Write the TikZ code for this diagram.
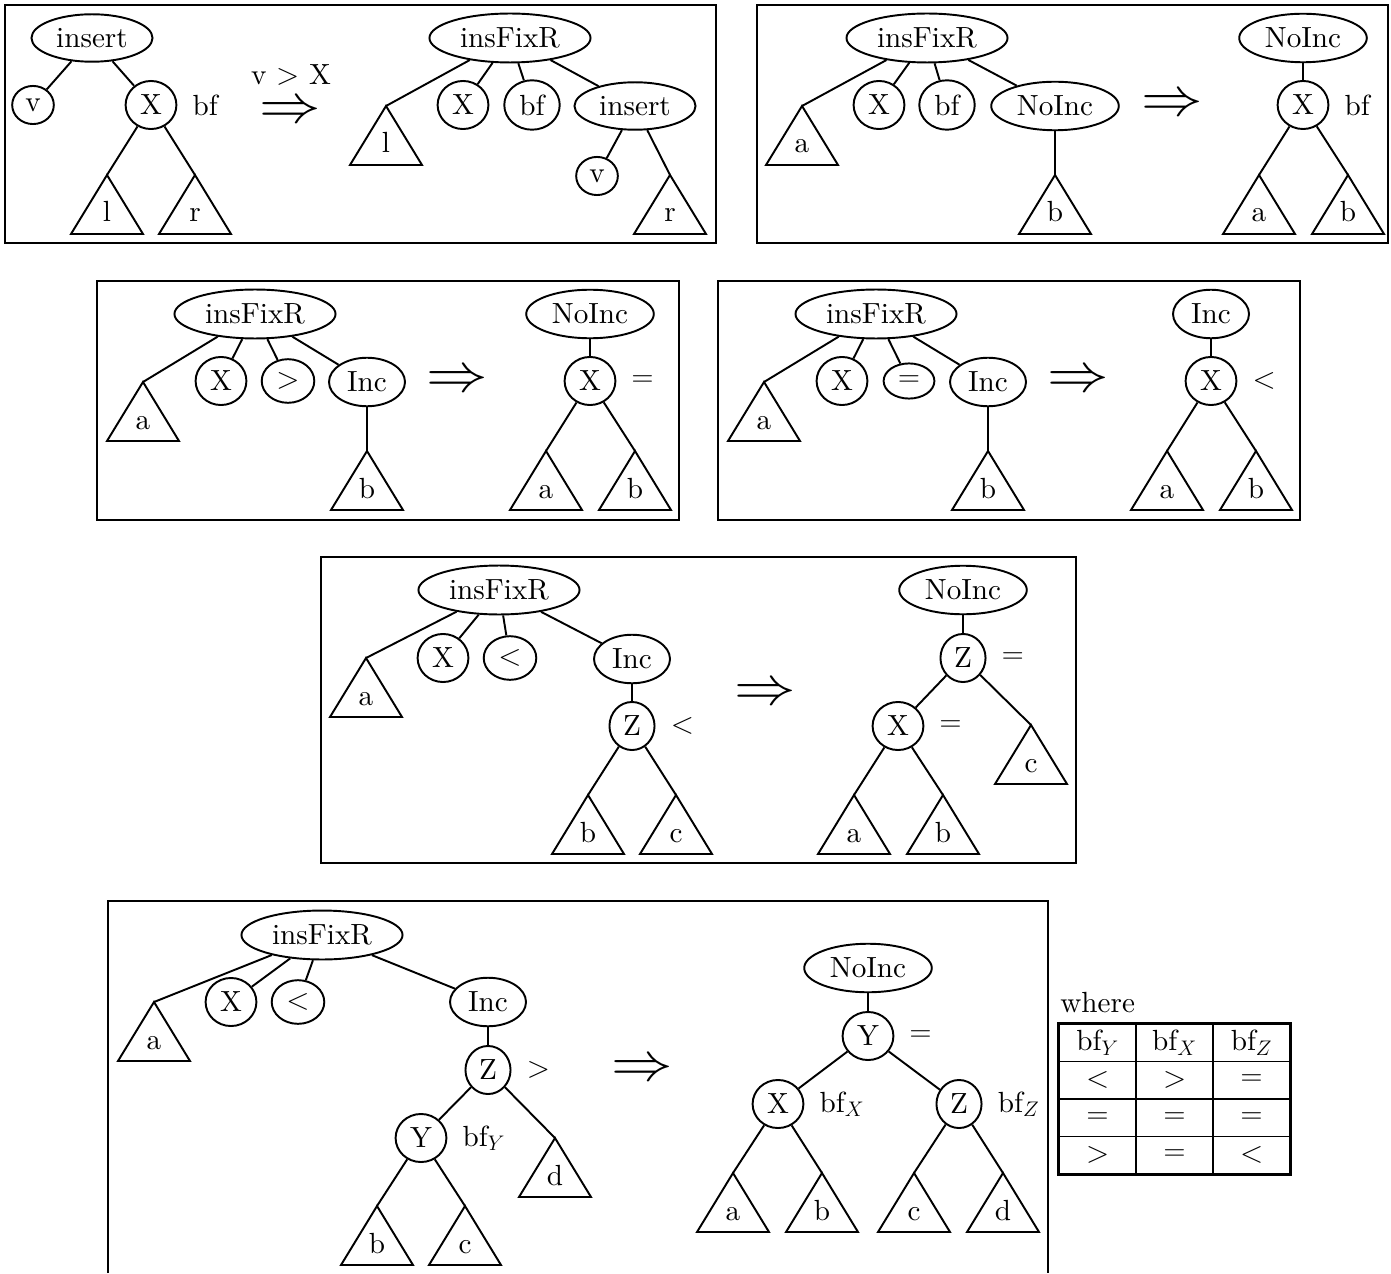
\documentclass[tikz,border=0pt]{standalone}
\usepackage{fontspec}
\setmainfont{lmroman10}[Extension=.otf, UprightFont=*-regular, BoldFont=*-bold,
  ItalicFont=*-italic, BoldItalicFont=*-bolditalic]
\usetikzlibrary{positioning,shapes.geometric,matrix}

\tikzset{
  tnode/.style={draw, ellipse, inner sep=4pt, line width=1.1pt},
  branch/.style={line width=1.1pt},
  panel/.style={line width=1.5pt},
  lab/.style={inner sep=0pt},
  imp/.style={font=\fontsize{10}{12}\selectfont, inner sep=0pt},
  sub/.pic={
    \coordinate (-top) at (0,0);
    \draw[branch] (0,0) -- (-36,59) -- (36,59) -- cycle;
    \node[anchor=base, inner sep=0pt] (-lab) at (0,47) {#1};
  }
}
\newcommand{\imparrow}{\scalebox{3.5}[3.1]{$\Rightarrow$}}

\begin{document}
\begin{tikzpicture}[x=0.02cm, y=-0.02cm, every node/.style={font=\fontsize{16.6}{20}\selectfont}]
\useasboundingbox (0,0) rectangle (1391,1273);

% insert into the right subtree
\draw[panel] (5,5) rectangle (716,243);
\node[tnode] (ins1) at (92,38) {insert};
\node[tnode] (v1) at (33,105) {v};
\node[tnode] (x1) at (151,105) {X};
\node[lab, right=0.3cm of x1] (bf1) {bf};
\pic (l1) at (107,175) {sub=l};
\pic (r1) at (195,175) {sub=r};
\draw[branch] (ins1) -- (v1);
\draw[branch] (ins1) -- (x1);
\draw[branch] (x1) -- (l1-top);
\draw[branch] (x1) -- (r1-top);
\node[imp] (imp1) at (290,113) {\imparrow};
\node[lab] (cond1) at (291,75) {v $>$ X};
\node[tnode] (fix1) at (510,38) {insFixR};
\pic (l2) at (386,106) {sub=l};
\node[tnode] (x2) at (463,105) {X};
\node[tnode] (bf2) at (532,105) {bf};
\node[tnode] (ins2) at (635,106) {insert};
\node[tnode] (v2) at (597,176) {v};
\pic (r2) at (670,175) {sub=r};
\draw[branch] (fix1) -- (l2-top);
\draw[branch] (fix1) -- (x2);
\draw[branch] (fix1) -- (bf2);
\draw[branch] (fix1) -- (ins2);
\draw[branch] (ins2) -- (v2);
\draw[branch] (ins2) -- (r2-top);

% no increase
\draw[panel] (757,5) rectangle (1388,243);
\node[tnode] (fix3) at (927,38) {insFixR};
\pic (a3) at (802,106) {sub=a};
\node[tnode] (x3) at (879,105) {X};
\node[tnode] (bf3) at (947,105) {bf};
\node[tnode] (no3) at (1055,106) {NoInc};
\pic (b3) at (1055,175) {sub=b};
\draw[branch] (fix3) -- (a3-top);
\draw[branch] (fix3) -- (x3);
\draw[branch] (fix3) -- (bf3);
\draw[branch] (fix3) -- (no3);
\draw[branch] (no3) -- (b3-top);
\node[imp] (imp2) at (1172,106) {\imparrow};
\node[tnode] (no4) at (1303,38) {NoInc};
\node[tnode] (x4) at (1303,105) {X};
\node[lab, right=0.3cm of x4] (bf4) {bf};
\pic (a4) at (1259,175) {sub=a};
\pic (b4) at (1348,175) {sub=b};
\draw[branch] (no4) -- (x4);
\draw[branch] (x4) -- (a4-top);
\draw[branch] (x4) -- (b4-top);

% increase, left heavy
\draw[panel] (97,281) rectangle (679,520);
\node[tnode] (fix5) at (255,314) {insFixR};
\pic (a5) at (143,382) {sub=a};
\node[tnode] (x5) at (221,381) {X};
\node[tnode] (gt5) at (288,381) {$>$};
\node[tnode] (inc5) at (367,382) {Inc};
\pic (b5) at (367,451) {sub=b};
\draw[branch] (fix5) -- (a5-top);
\draw[branch] (fix5) -- (x5);
\draw[branch] (fix5) -- (gt5);
\draw[branch] (fix5) -- (inc5);
\draw[branch] (inc5) -- (b5-top);
\node[imp] (imp3) at (457,382) {\imparrow};
\node[tnode] (no6) at (590,314) {NoInc};
\node[tnode] (x6) at (590,381) {X};
\node[lab, right=0.3cm of x6] (bal6) {$=$};
\pic (a6) at (546,451) {sub=a};
\pic (b6) at (635,451) {sub=b};
\draw[branch] (no6) -- (x6);
\draw[branch] (x6) -- (a6-top);
\draw[branch] (x6) -- (b6-top);

% increase, balanced
\draw[panel] (718,281) rectangle (1300,520);
\node[tnode] (fix7) at (876,314) {insFixR};
\pic (a7) at (764,382) {sub=a};
\node[tnode] (x7) at (842,381) {X};
\node[tnode] (eq7) at (909,381) {$=$};
\node[tnode] (inc7) at (988,382) {Inc};
\pic (b7) at (988,451) {sub=b};
\draw[branch] (fix7) -- (a7-top);
\draw[branch] (fix7) -- (x7);
\draw[branch] (fix7) -- (eq7);
\draw[branch] (fix7) -- (inc7);
\draw[branch] (inc7) -- (b7-top);
\node[imp] (imp4) at (1078,382) {\imparrow};
\node[tnode] (inc8) at (1211,314) {Inc};
\node[tnode] (x8) at (1211,381) {X};
\node[lab, right=0.3cm of x8] (bal8) {$<$};
\pic (a8) at (1167,451) {sub=a};
\pic (b8) at (1256,451) {sub=b};
\draw[branch] (inc8) -- (x8);
\draw[branch] (x8) -- (a8-top);
\draw[branch] (x8) -- (b8-top);

% single rotation
\draw[panel] (321,557) rectangle (1076,863);
\node[tnode] (fix9) at (499,590) {insFixR};
\pic (a9) at (366,658) {sub=a};
\node[tnode] (x9) at (443,658) {X};
\node[tnode] (lt9) at (510,658) {$<$};
\node[tnode] (inc9) at (632,659) {Inc};
\node[tnode] (z9) at (632,726) {Z};
\node[lab, right=0.3cm of z9] (bal9) {$<$};
\pic (b9) at (588,795) {sub=b};
\pic (c9) at (676,795) {sub=c};
\draw[branch] (fix9) -- (a9-top);
\draw[branch] (fix9) -- (x9);
\draw[branch] (fix9) -- (lt9);
\draw[branch] (fix9) -- (inc9);
\draw[branch] (inc9) -- (z9);
\draw[branch] (z9) -- (b9-top);
\draw[branch] (z9) -- (c9-top);
\node[imp] (imp5) at (765,695) {\imparrow};
\node[tnode] (no10) at (963,590) {NoInc};
\node[tnode] (z10) at (963,658) {Z};
\node[lab, right=0.3cm of z10] (bal10) {$=$};
\node[tnode] (x10) at (898,726) {X};
\node[lab, right=0.3cm of x10] (bal10x) {$=$};
\pic (c10) at (1031,725) {sub=c};
\pic (a10) at (854,795) {sub=a};
\pic (b10) at (943,795) {sub=b};
\draw[branch] (no10) -- (z10);
\draw[branch] (z10) -- (x10);
\draw[branch] (z10) -- (c10-top);
\draw[branch] (x10) -- (a10-top);
\draw[branch] (x10) -- (b10-top);

% double rotation
\draw[panel] (108,1273) -- (108,901) -- (1048,901) -- (1048,1273);
\node[tnode] (fix11) at (322,935) {insFixR};
\pic (a11) at (154,1002) {sub=a};
\node[tnode] (x11) at (231,1002) {X};
\node[tnode] (lt11) at (298,1002) {$<$};
\node[tnode] (inc11) at (488,1002) {Inc};
\node[tnode] (z11) at (488,1070) {Z};
\node[lab, right=0.3cm of z11] (bal11) {$>$};
\node[tnode] (y11) at (421,1138) {Y};
\node[lab, right=0.3cm of y11] (bal11y) {bf$_Y$};
\pic (d11) at (555,1138) {sub=d};
\pic (b11) at (377,1206) {sub=b};
\pic (c11) at (465,1206) {sub=c};
\draw[branch] (fix11) -- (a11-top);
\draw[branch] (fix11) -- (x11);
\draw[branch] (fix11) -- (lt11);
\draw[branch] (fix11) -- (inc11);
\draw[branch] (inc11) -- (z11);
\draw[branch] (z11) -- (y11);
\draw[branch] (z11) -- (d11-top);
\draw[branch] (y11) -- (b11-top);
\draw[branch] (y11) -- (c11-top);
\node[imp] (imp6) at (642,1070) {\imparrow};
\node[tnode] (no12) at (868,968) {NoInc};
\node[tnode] (y12) at (868,1036) {Y};
\node[lab, right=0.3cm of y12] (bal12) {$=$};
\node[tnode] (x12) at (778,1104) {X};
\node[lab, right=0.3cm of x12] (bal12x) {bf$_X$};
\node[tnode] (z12) at (959,1104) {Z};
\node[lab, right=0.3cm of z12] (bal12z) {bf$_Z$};
\pic (a12) at (733,1173) {sub=a};
\pic (b12) at (822,1173) {sub=b};
\pic (c12) at (914,1173) {sub=c};
\pic (d12) at (1003,1173) {sub=d};
\draw[branch] (no12) -- (y12);
\draw[branch] (y12) -- (x12);
\draw[branch] (y12) -- (z12);
\draw[branch] (x12) -- (a12-top);
\draw[branch] (x12) -- (b12-top);
\draw[branch] (z12) -- (c12-top);
\draw[branch] (z12) -- (d12-top);

% balance table
\node[anchor=base west, inner sep=0pt] (where) at (1060,1012) {where};
\matrix (tab) [matrix of nodes, anchor=north west, inner sep=0pt,
  column sep=-0.9pt, row sep=-0.9pt,
  nodes={draw, line width=0.9pt, minimum width=1.54cm, minimum height=0.75cm, inner sep=0pt, anchor=center}]
  at (1058,1023) {
  bf$_Y$ & bf$_X$ & bf$_Z$ \\
  $<$ & $>$ & $=$ \\
  $=$ & $=$ & $=$ \\
  $>$ & $=$ & $<$ \\
};
\draw[line width=1.3pt] (tab.north west) rectangle (tab.south east);
\end{tikzpicture}
\end{document}
